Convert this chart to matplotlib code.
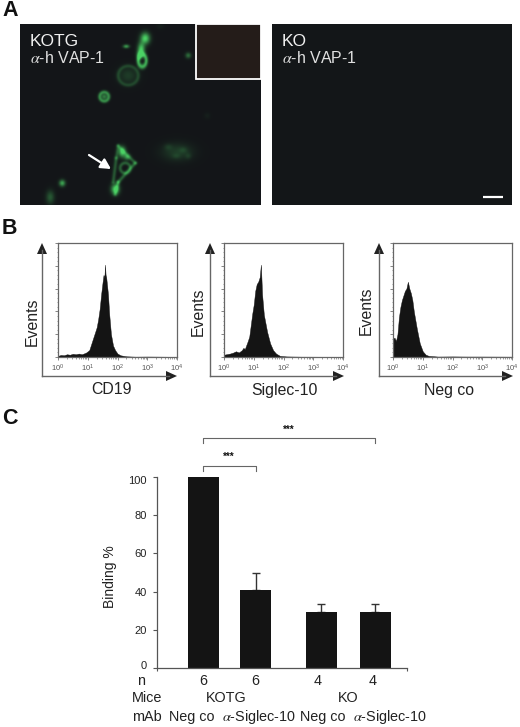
import numpy as np
import matplotlib
matplotlib.use("Agg")
import matplotlib.pyplot as plt
from matplotlib.ticker import LogLocator, NullFormatter, FixedLocator, LogFormatterMathtext
from matplotlib.transforms import ScaledTranslation

plt.rcParams['font.family'] = ['Liberation Sans', 'DejaVu Sans']
plt.rcParams['mathtext.fontset'] = 'stix'

# --- panel C data
bar_values = [100, 41, 29.5, 29.2]
bar_errors = [0, 8.5, 4.2, 4.3]
n_labels = ['6', '6', '4', '4']
mab_labels = ['Neg co', r'$\alpha$-Siglec-10', 'Neg co', r'$\alpha$-Siglec-10']
y_ticks = [0, 20, 40, 60, 80, 100]

# --- panel B data: log10 intensity, % of axis height
cd19_x = [0, .1, .2, .3, .4, .5, .6, .7, .8, .9, .95, 1.05, 1.1, 1.2, 1.3, 1.35, 1.4, 1.45, 1.5, 1.53, 1.56, 1.58, 1.6, 1.62, 1.68, 1.72, 1.78, 1.85, 1.92, 2, 2.1, 2.3, 2.6, 3, 4]
cd19_y = [1, 1.8, 1.5, 2.4, 2, 2.8, 2.4, 3, 2.4, 3.4, 4, 6, 10, 18, 26, 33, 42, 55, 66, 72, 70, 81, 72, 70, 55, 38, 20, 10, 6, 3, 1.5, .6, .3, .4, .2]
sig_x = [0, .1, .2, .3, .4, .5, .6, .65, .7, .8, .85, .9, .95, 1.0, 1.05, 1.1, 1.15, 1.2, 1.24, 1.28, 1.34, 1.45, 1.55, 1.65, 1.75, 1.88, 2.1, 2.6, 4]
sig_y = [2, 2.5, 3, 3.8, 5, 4, 6, 8, 7, 14, 18, 28, 38, 46, 58, 64, 66, 70, 81, 55, 37, 22, 12, 6, 3, 1, .5, .3, .2]
neg_x = [0, .05, .1, .15, .2, .25, .3, .4, .45, .5, .55, .6, .65, .7, .8, .9, 1.0, 1.1, 1.2, 1.5, 2, 2.5, 3, 4]
neg_y = [16, 17, 14, 20, 35, 44, 50, 58, 60, 66, 60, 56, 50, 40, 25, 12, 5, 2, 1, .4, .5, .4, .4, .3]
hist_series = [('CD19', cd19_x, cd19_y), ('Siglec-10', sig_x, sig_y), ('Neg co', neg_x, neg_y)]

# --- panel A micrograph features
# spots: x, y, rx, ry, brightness
spots = [
    (145, 39, 4.5, 5.5, 1.0), (141, 50, 3.5, 6.5, .95), (139, 56, 2.5, 4, .7),
    (126, 47, 3, 1.8, .7), (188, 56, 2.8, 2.8, .45), (104, 97, 2.8, 2.8, .55),
    (128, 76, 9, 8, .2), (177, 152, 15, 8.5, .2),
    (168, 147, 4, 3, .12), (183, 150, 4, 3, .12), (176, 156, 4, 2.5, .1), (188, 156, 3, 3, .12),
    (122, 152, 3.5, 5, .95), (127, 157, 3, 3, .6), (115, 189, 4, 5, .95),
    (62, 183, 3, 3.2, .75), (50, 197, 4, 6.5, .35), (207, 116, 3, 3, .05), (160, 27, 4, 3, .05),
]
# rings: x, y, rx, ry, brightness
rings = [
    (142, 61, 4, 6, .8), (128, 76, 10, 9.5, .22), (104, 97, 4.5, 4.5, .6), (125, 168, 5, 5, .38),
]
# strands: x0, y0, x1, y1, brightness
strands = [
    (118, 146, 135, 163, .35), (135, 163, 118, 182, .4), (118, 182, 115, 194, .45),
    (116, 158, 113, 182, .35), (118, 146, 116, 158, .28),
]

W, H = 520, 727
fig = plt.figure(figsize=(W / 100, H / 100), dpi=100, facecolor='white')


def axpx(x0, y0, x1, y1, **kw):
    return fig.add_axes([x0 / W, 1 - y1 / H, (x1 - x0) / W, (y1 - y0) / H], **kw)


DARK = np.array([0.075, 0.085, 0.095])

# micrograph KOTG
ax = axpx(20, 24, 261, 205)
xx, yy = np.meshgrid(np.arange(20, 261, .5), np.arange(24, 205, .5))
g = np.zeros_like(xx)
for cx, cy, rx, ry, b in spots:
    g += b * np.exp(-(((xx - cx) / rx) ** 2 + ((yy - cy) / ry) ** 2))
for cx, cy, rx, ry, b in rings:
    r = np.hypot((xx - cx) / rx, (yy - cy) / ry)
    g += b * np.exp(-(((r - 1) * min(rx, ry)) / 1.8) ** 2)
for x0, y0, x1, y1, b in strands:
    dx, dy = x1 - x0, y1 - y0
    t = np.clip(((xx - x0) * dx + (yy - y0) * dy) / (dx * dx + dy * dy), 0, 1)
    g += b * np.exp(-(np.hypot(xx - x0 - t * dx, yy - y0 - t * dy) / 1.8) ** 2)
g = np.clip(g, 0, 1)
img = np.dstack([DARK[0] + g * .22, DARK[1] + g * .74, DARK[2] + g * .30])
ax.imshow(np.clip(img, 0, 1), extent=(20, 261, 205, 24), aspect='auto', interpolation='bilinear')
ax.axis('off')

# micrograph KO
ax = axpx(272, 24, 512, 205)
ax.set_facecolor(DARK)
ax.set_xticks([]); ax.set_yticks([])
for s in ax.spines.values():
    s.set_visible(False)

# histograms
for (name, hx, hy), (x0, x1) in zip(hist_series, [(58, 177), (224, 343), (393, 512)]):
    ax = axpx(x0, 243, x1, 357)
    ax.fill_between(10 ** np.array(hx), hy, 0, color='#141414', lw=.3)
    ax.set_xscale('log')
    ax.set_xlim(1, 1e4)
    ax.set_ylim(0, 100)
    ax.xaxis.set_major_locator(LogLocator(base=10, numticks=6))
    ax.xaxis.set_major_formatter(LogFormatterMathtext())
    ax.xaxis.set_minor_locator(LogLocator(base=10, subs=np.arange(2, 10), numticks=6))
    ax.xaxis.set_minor_formatter(NullFormatter())
    ax.yaxis.set_major_locator(FixedLocator(np.arange(0, 101, 20)))
    ax.yaxis.set_minor_locator(FixedLocator(np.arange(0, 101, 4)))
    ax.set_yticklabels([])
    ax.tick_params(axis='x', which='major', length=2.5, width=.5, color='#555555',
                   labelsize=5.5, labelcolor='#555555', pad=1.5)
    ax.tick_params(axis='x', which='minor', length=1.2, width=.4, color='#555555')
    ax.tick_params(axis='y', which='major', length=2, width=.5, color='#555555')
    ax.tick_params(axis='y', which='minor', length=1, width=.4, color='#555555')
    for s in ax.spines.values():
        s.set_color('#666666'); s.set_linewidth(.9)

# bars
centers = np.array([46.5, 98.5, 164, 218])
ax = axpx(157, 477, 407, 668)
ax.bar(centers, bar_values, width=31, color='#141414', zorder=2)
ax.errorbar(centers[1:], bar_values[1:], yerr=[[0] * 3, bar_errors[1:]], fmt='none',
            ecolor='#333333', elinewidth=1, capsize=3, capthick=1, zorder=1)
ax.set_xlim(0, 250)
ax.set_ylim(0, 100)
ax.set_yticks(y_ticks)
ax.set_xticks([0, 250])
ax.set_xticklabels([])
ax.set_ylabel('Binding %', fontsize=10, color='#222222')
ax.yaxis.set_label_coords(-40 / 250, .476)
ax.tick_params(axis='y', length=3, width=.8, color='#555555', labelsize=8, labelcolor='#222222', pad=4.5)
ax.tick_params(axis='x', length=2, width=.8, color='#555555', direction='out')
ax.spines[['top', 'right']].set_visible(False)
ax.spines[['left', 'bottom']].set_color('#555555')
ax.spines[['left', 'bottom']].set_linewidth(.9)
labs = ax.get_yticklabels()
labs[0].set_transform(labs[0].get_transform() + ScaledTranslation(0, 3 / 100, fig.dpi_scale_trans))
labs[-1].set_transform(labs[-1].get_transform() + ScaledTranslation(0, -3 / 100, fig.dpi_scale_trans))

# overlay in pixel coordinates
ov = axpx(0, 0, W, H)
ov.set_xlim(0, W); ov.set_ylim(H, 0)
ov.axis('off'); ov.patch.set_alpha(0)


def T(x, y, s, size, ha='center', va='center', **kw):
    kw.setdefault('color', '#222222')
    ov.text(x, y, s, fontsize=size, ha=ha, va=va, **kw)


# panel letters
for (x, y, s) in [(2, 11, 'A'), (2, 229, 'B'), (2, 419, 'C')]:
    T(x, y, s, 15.5, ha='left', fontweight='bold', color='#111111')

# panel A overlays
ov.add_patch(plt.Rectangle((196, 24), 65, 55, fc='#241c19', ec='white', lw=1.3))
T(30, 41, 'KOTG', 12.5, ha='left', color='#f0f0f0')
T(30, 58, r'$\alpha$-h VAP-1', 11.5, ha='left', color='#e0e0e0')
T(282, 41, 'KO', 12.5, ha='left', color='#f0f0f0')
T(282, 58, r'$\alpha$-h VAP-1', 11.5, ha='left', color='#e0e0e0')
ov.annotate('', xy=(111, 169), xytext=(89, 155),
            arrowprops=dict(arrowstyle='-|>,head_width=.32,head_length=.6', color='white', lw=1.6,
                            shrinkA=0, shrinkB=0))
ov.plot([483, 503], [197, 197], color='white', lw=1.6, solid_capstyle='butt')

# panel B axes arrows and labels
for xa, xend, xl, lab, ex, ey in [(42, 177, 112, 'CD19', 32, 322), (210, 344, 284, 'Siglec-10', 198, 312),
                                  (379, 513, 449, 'Neg co', 366, 311)]:
    ov.plot([xa, xa], [376, 250], color='#666666', lw=1)
    ov.plot([xa, xend - 8], [376, 376], color='#666666', lw=1)
    ov.fill([xa, xa - 5, xa + 5], [243, 254, 254], color='#222222', lw=0)
    ov.fill([xend, xend - 11, xend - 11], [376, 371, 381], color='#222222', lw=0)
    T(xl, 390, lab, 11.4)
    T(ex, ey, 'Events', 11.4, rotation=90)

# panel C brackets and table
for x0, x1, y, ys in [(203, 375, 438, 430), (203, 256, 466, 457)]:
    ov.plot([x0, x0, x1, x1], [y + 5, y, y, y + 5], color='#666666', lw=.8)
    T(x0 + 86 if x1 > 300 else x0 + 26, ys, '***', 7, fontweight='bold', color='#111111')
T(141, 681, 'n', 10.4)
for x, s in zip([203, 255, 318, 373], n_labels):
    T(x, 681, s, 10.4)
T(132, 698, 'Mice', 10.4, ha='left')
T(226, 698, 'KOTG', 10.4)
T(348, 698, 'KO', 10.4)
T(132, 717, 'mAb', 10.4, ha='left')
for x, s in zip([192, 259, 323, 390], mab_labels):
    T(x, 717, s, 10.4)

fig.savefig('out.png', dpi=100)
